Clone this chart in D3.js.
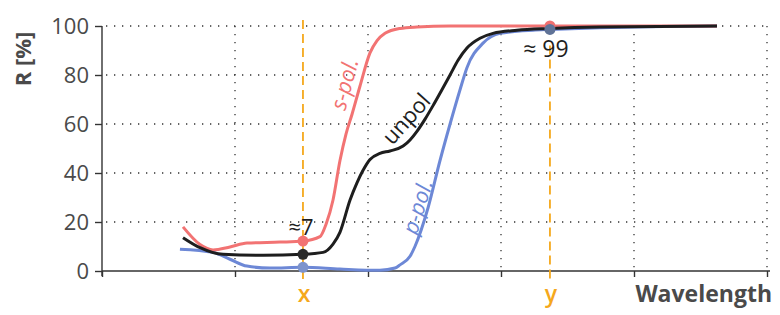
<!DOCTYPE html>
<html>
<head>
<meta charset="utf-8">
<script src="https://cdn.jsdelivr.net/npm/d3@7"></script>
<style>
  body { margin: 0; background: #fff; }
  text { font-family: "Open Sans", "Noto Sans", sans-serif; }
</style>
</head>
<body>
<div id="chart"></div>
<script>

// reflectance curves, x in wavelength units (0..5), R in %
var sPol = [[0.609, 18], [0.737, 10.8], [0.835, 8.6], [0.962, 9.8], [1.09, 11.4], [1.338, 11.8],
            [1.511, 12.2], [1.639, 14], [1.684, 19], [1.737, 29], [1.789, 45], [1.835, 56],
            [1.880, 64], [1.940, 75.5], [2.015, 89], [2.068, 94], [2.128, 97], [2.241, 99],
            [2.368, 99.6], [2.617, 100], [4.624, 100]];

var unPol = [[0.609, 13.6], [0.737, 9.5], [0.91, 6.8], [1.211, 6.4], [1.511, 6.8], [1.662, 7.6],
             [1.737, 11], [1.789, 15.8], [1.865, 29], [1.917, 36], [1.962, 41], [2.015, 45.5],
             [2.09, 48], [2.165, 49], [2.264, 51], [2.316, 53.5], [2.368, 57], [2.429, 62],
             [2.489, 67.5], [2.556, 74], [2.617, 80], [2.677, 86], [2.744, 91], [2.842, 95],
             [2.94, 97], [3.12, 98.3], [3.368, 99], [3.744, 99.6], [4.624, 100]];

var pPol = [[0.586, 8.9], [0.835, 7.6], [0.962, 4.8], [1.09, 2], [1.263, 1.2], [1.511, 1.5],
            [1.789, 0.8], [2.09, 0.3], [2.203, 1.2], [2.241, 2.5], [2.316, 6], [2.353, 10],
            [2.451, 25.7], [2.541, 45], [2.617, 60], [2.692, 74], [2.744, 83], [2.865, 93],
            [2.992, 97], [3.241, 98.3], [3.368, 98.6], [3.744, 99.3], [4.624, 100]];

var yTicks = [0, 20, 40, 60, 80, 100];
var xTicks = [0, 1, 2, 3, 4, 5];
var markX = 1.511, markY = 3.368;

var svg_dx = 780, svg_dy = 315;

var x = d3.scaleLinear().domain([0, 5]).range([102, 767]),
    y = d3.scaleLinear().domain([0, 100]).range([271, 26]);

var svg = d3.select("#chart")
            .append("svg")
            .attr("width", svg_dx)
            .attr("height", svg_dy);

// dotted grid
svg.append("g")
   .selectAll("line")
   .data(yTicks.slice(1))
   .enter()
   .append("line")
   .attr("x1", x(0) + 4).attr("x2", 770)
   .attr("y1", d => y(d)).attr("y2", d => y(d))
   .style("stroke", "#333")
   .style("stroke-width", 1.3)
   .style("stroke-dasharray", "1.3,6.7");

svg.append("g")
   .selectAll("line")
   .data(xTicks.slice(1))
   .enter()
   .append("line")
   .attr("x1", d => x(d)).attr("x2", d => x(d))
   .attr("y1", y(100)).attr("y2", y(0) - 3)
   .style("stroke", "#333")
   .style("stroke-width", 1.3)
   .style("stroke-dasharray", "1.3,6.7");

// axes
var axis_y = d3.axisLeft(y).tickValues(yTicks).tickSize(7).tickPadding(6);
var gy = svg.append("g")
   .attr("transform", "translate(" + x(0) + ",0)")
   .call(axis_y);
gy.select(".domain").attr("d", "M0," + y(100) + "V" + (y(0) + 5));
gy.selectAll("text").style("font-size", "22px").style("fill", "#4a4a4a")
  .style("font-family", "'Open Sans', sans-serif");

var axis_x = d3.axisBottom(x).tickValues(xTicks).tickSize(6).tickFormat("");
var gx = svg.append("g")
   .attr("transform", "translate(0," + y(0) + ")")
   .call(axis_x);
gx.select(".domain").attr("d", "M" + x(0) + ",0H770");

svg.selectAll(".domain, .tick line").style("stroke", "#333").style("stroke-width", 1.4);

// marker lines
[markX, markY].forEach(function (m, i) {
    svg.append("line")
       .attr("x1", x(m)).attr("x2", x(m))
       .attr("y1", i == 0 ? 20 : y(92)).attr("y2", 279)
       .style("stroke", "#f5a81c")
       .style("stroke-width", 1.8)
       .style("stroke-dasharray", "9,5");
});

// curves
var line = d3.line()
    .x(d => x(d[0]))
    .y(d => y(d[1]))
    .curve(d3.curveMonotoneX);

var series = [
    {data: pPol, color: "#6d88d6"},
    {data: sPol, color: "#f27373"},
    {data: unPol, color: "#1e1e1e"}
];

series.forEach(function (s) {
    svg.append("path")
       .datum(s.data)
       .attr("d", line)
       .style("fill", "none")
       .style("stroke", s.color)
       .style("stroke-width", 3);
});

// dots at the marker positions
var dots = [
    [markX, 12.2, "#f27373"], [markX, 6.8, "#2a2a2a"], [markX, 1.5, "#7d93cc"],
    [markY, 100, "#f07070"], [markY, 98.6, "#5f7297"]
];
svg.append("g")
   .selectAll("circle")
   .data(dots)
   .enter()
   .append("circle")
   .attr("cx", d => x(d[0]))
   .attr("cy", d => y(d[1]))
   .attr("r", 5.5)
   .style("fill", d => d[2]);

// curve labels
function rotLabel(txt, cx, cy, ang, color, italic) {
    svg.append("text")
       .attr("transform", "translate(" + cx + "," + cy + ") rotate(" + ang + ")")
       .attr("text-anchor", "middle")
       .style("font-size", "22px")
       .style("font-style", italic ? "italic" : "normal")
       .style("fill", color)
       .text(txt);
}
rotLabel("s-pol.", 352, 86, -75, "#f27373", true);
rotLabel("unpol", 412, 124, -48, "#1e1e1e", false);
rotLabel("p-pol.", 425, 209, -73, "#6d88d6", true);

svg.append("text")
   .attr("x", x(markX) - 2).attr("y", 235)
   .attr("text-anchor", "middle")
   .style("font-size", "22px")
   .style("fill", "#1e1e1e")
   .text("≈7");

svg.append("text")
   .attr("x", x(markY) - 4).attr("y", 57)
   .attr("text-anchor", "middle")
   .style("font-size", "23px")
   .style("fill", "#1e1e1e")
   .text("≈ 99");

// axis titles
svg.append("text")
   .attr("transform", "translate(31,59) rotate(-90)")
   .attr("text-anchor", "middle")
   .style("font-size", "22px")
   .style("font-weight", "bold")
   .style("fill", "#4a4a4a")
   .text("R [%]");

svg.append("text")
   .attr("x", 772).attr("y", 302)
   .attr("text-anchor", "end")
   .style("font-size", "23px")
   .style("font-weight", "bold")
   .style("fill", "#4a4a4a")
   .text("Wavelength");

[["x", markX], ["y", markY]].forEach(function (d) {
    svg.append("text")
       .attr("x", x(d[1]) + 1).attr("y", 302)
       .attr("text-anchor", "middle")
       .style("font-size", "23px")
       .style("font-weight", "600")
       .style("fill", "#f5a81c")
       .text(d[0]);
});

</script>
</body>
</html>
